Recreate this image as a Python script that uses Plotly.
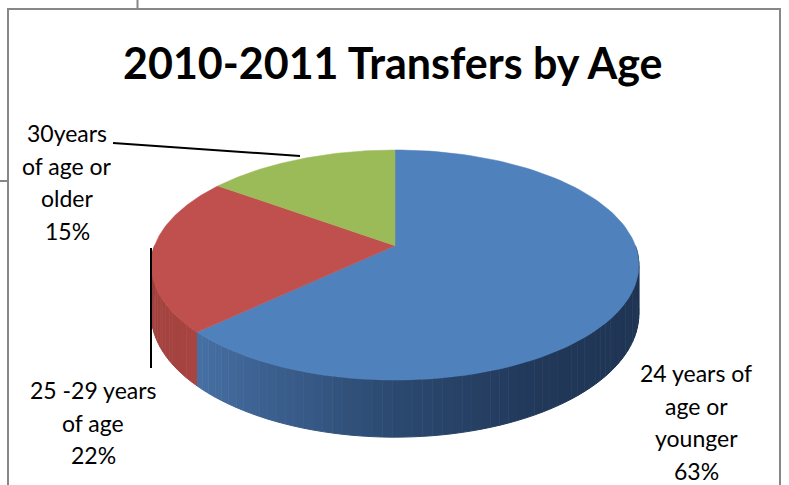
import numpy as np
import plotly.graph_objects as go

# ---- data ----
categories = ["24 years of\nage or\nyounger", "25 -29 years\nof age", "30years\nof age or\nolder"]
values = [63, 22, 15]
title_text = "2010-2011 Transfers by Age"

# ---- styling / geometry constants (pixel space) ----
W, H = 789, 485
CX, CY = 395, 245.7          # projected pie apex
BX, BY = 240.4, 111.8        # projected radii scales
K = 0.168                    # perspective strength
DEPTH = 47.5
TOP_COLORS = ["#4F81BD", "#C0504D", "#9BBB59"]
# side-wall colour stops (angle in degrees clockwise from 12 o'clock)
WALL_STOPS = [
    [(90, "#1e3250"), (150, "#213859"), (180, "#2b4970"), (205, "#3b5f8e"), (230, "#4873a8")],
    [(226, "#a84441"), (270, "#9c3f3c")],
    [(300, "#7f9a48"), (360, "#7f9a48")],
]
LABEL_FONT = "Lato, 'Open Sans', sans-serif"
LABEL_SIZE = 23
LINE_GAP = 32.5
LABEL_ANCHORS = [(696, 373), (93, 390), (67, 133)]


def hex2rgb(h):
    h = h.lstrip("#")
    return np.array([int(h[i:i + 2], 16) for i in (0, 2, 4)], dtype=float)


def wall_color(stops, ang):
    angs = [s[0] for s in stops]
    cols = np.array([hex2rgb(s[1]) for s in stops])
    c = [np.interp(ang, angs, cols[:, k]) for k in range(3)]
    return "rgb(%d,%d,%d)" % tuple(int(round(v)) for v in c)


def px(theta_deg, drop=0.0):
    t = np.radians(theta_deg)
    s = 1.0 / (1.0 + K * np.cos(t))
    return CX + BX * np.sin(t) * s, CY - BY * np.cos(t) * s + drop * s


fig = go.Figure()

total = float(sum(values))
bounds = np.concatenate([[0], np.cumsum(values) / total * 360.0])

# side walls (front half only)
for i in range(len(values)):
    a0, a1 = max(bounds[i], 90), min(bounds[i + 1], 270)
    if a1 <= a0:
        continue
    n = max(int((a1 - a0) / 2), 1)
    edges = np.linspace(a0, a1, n + 1)
    for j in range(n):
        th = np.linspace(edges[j], edges[j + 1], 4)
        xs, ys = px(th)
        xb, yb = px(th, DEPTH)
        xx = np.concatenate([xs, xb[::-1]])
        yy = np.concatenate([ys, yb[::-1]])
        col = wall_color(WALL_STOPS[i], (edges[j] + edges[j + 1]) / 2)
        fig.add_trace(go.Scatter(x=xx, y=yy, fill="toself", mode="lines",
                                 fillcolor=col, line=dict(color=col, width=1),
                                 hoverinfo="skip", showlegend=False))

# top faces
for i in range(len(values)):
    th = np.linspace(bounds[i], bounds[i + 1], 120)
    xs, ys = px(th)
    xx = np.concatenate([[CX], xs, [CX]])
    yy = np.concatenate([[CY], ys, [CY]])
    fig.add_trace(go.Scatter(x=xx, y=yy, fill="toself", mode="lines",
                             fillcolor=TOP_COLORS[i], line=dict(color=TOP_COLORS[i], width=0.5),
                             hoverinfo="skip", showlegend=False,
                             name=categories[i].replace("\n", " ")))

# labels (one annotation per text line)
annotations = []
for i, cat in enumerate(categories):
    lines = cat.split("\n") + ["%d%%" % round(values[i] / total * 100)]
    ax, ay = LABEL_ANCHORS[i]
    for k, ln in enumerate(lines):
        annotations.append(dict(x=ax, y=ay + k * LINE_GAP, text=ln, showarrow=False,
                                xref="x", yref="y", xanchor="center", yanchor="middle",
                                borderpad=0,
                                font=dict(family=LABEL_FONT, size=LABEL_SIZE, color="#000000")))

annotations.append(dict(x=393, y=62, text="<b>%s</b>" % title_text, showarrow=False,
                        xref="x", yref="y", xanchor="center", yanchor="middle",
                        font=dict(family=LABEL_FONT, size=43, color="#000000")))

shapes = [
    # chart frame
    dict(type="rect", xref="x", yref="y", x0=8, y0=9, x1=780, y1=520,
         line=dict(color="#878787", width=2), fillcolor="rgba(0,0,0,0)"),
    dict(type="line", xref="x", yref="y", x0=137.5, y0=0, x1=137.5, y1=9,
         line=dict(color="#878787", width=2)),
    dict(type="line", xref="x", yref="y", x0=0, y0=181, x1=8, y1=181,
         line=dict(color="#878787", width=2)),
    # leader lines
    dict(type="line", xref="x", yref="y", x0=113, y0=143, x1=300, y1=156,
         line=dict(color="#000000", width=2)),
    dict(type="line", xref="x", yref="y", x0=151, y0=248, x1=151, y1=368,
         line=dict(color="#000000", width=2)),
]

fig.update_layout(
    width=W, height=H,
    margin=dict(l=0, r=0, t=0, b=0),
    paper_bgcolor="white", plot_bgcolor="white",
    xaxis=dict(range=[0, W], visible=False, fixedrange=True),
    yaxis=dict(range=[H, 0], visible=False, fixedrange=True),
    annotations=annotations,
    shapes=shapes,
    showlegend=False,
)

fig.write_html("out.html", config={"displayModeBar": False},
               post_script="document.body.style.margin='0px';document.body.style.overflow='hidden';")
